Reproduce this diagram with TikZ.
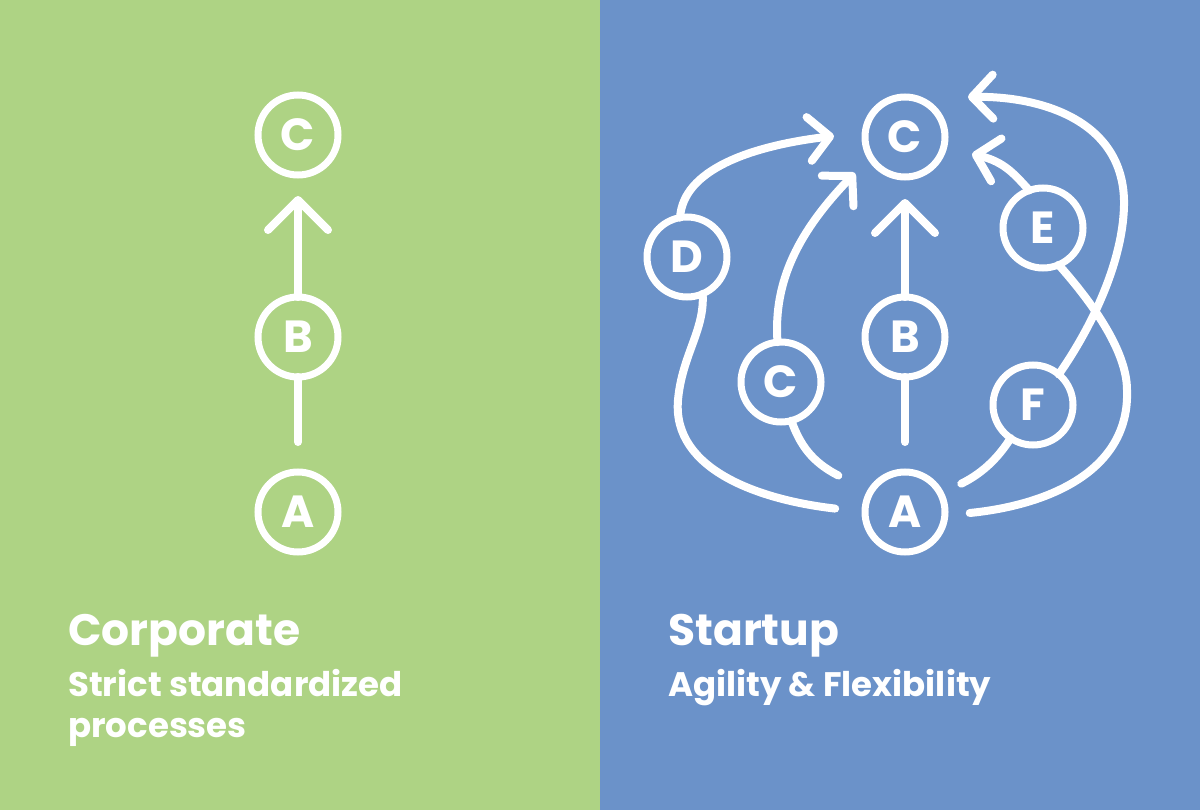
\documentclass[tikz,border=0pt]{standalone}
\usepackage{fontspec}
\setmainfont{Poppins}
\usetikzlibrary{arrows.meta}

\definecolor{corpgreen}{RGB}{174,211,132}
\definecolor{startblue}{RGB}{107,146,201}

\tikzset{
    stage/.style={circle, draw=white, line width=7pt, minimum size=80pt, inner sep=0pt, outer sep=0pt,
        text=white, font=\fontsize{45}{45}\selectfont\bfseries},
    link/.style={white, line width=8pt, line cap=round},
    flow/.style={link, -{Straight Barb[length=30pt,width=60pt,round]}},
    bend flow/.style={link, -{Straight Barb[length=21pt,width=44pt,round]}},
    title/.style={anchor=base west, text=white, inner sep=0pt, font=\fontsize{44}{50}\selectfont\bfseries},
    subtitle/.style={anchor=base west, text=white, inner sep=0pt, font=\fontsize{34}{40}\selectfont\bfseries},
}

\begin{document}
\begin{tikzpicture}[x=1pt,y=-1pt]
        % Panels.
        \fill[corpgreen] (0,0) rectangle (600,810);
        \fill[startblue] (600,0) rectangle (1200,810);
        \useasboundingbox (0,0) rectangle (1200,810);

        %Corporate
        \node[stage] (Cl) at (298,135) {C};
        \node[stage] (Bl) at (298,337) {B};
        \node[stage] (Al) at (298,512) {A};
        \draw[link, shorten <=30pt] (Al.north) -- (Bl.south);
        \draw[flow, shorten >=21pt] (Bl.north) -- (Cl.south);

        \node[title] (corp) at (68,645) {Corporate};
        \node[subtitle] (corp1) at (68,696) {Strict standardized};
        \node[subtitle] (corp2) at (68,737) {processes};

        %Startup
        \node[stage] (Ct) at (905,137) {C};
        \node[stage] (B) at (905,337) {B};
        \node[stage] (A) at (905,512) {A};
        \node[stage] (D) at (687,257) {D};
        \node[stage] (Cs) at (781,382) {C};
        \node[stage] (E) at (1043,228) {E};
        \node[stage] (F) at (1033,405) {F};

        % tips in front of C
        \coordinate (tipD) at (834,136);
        \coordinate (tipCs) at (855,173);
        \coordinate (tipE) at (972,154);
        \coordinate (tipF) at (968,97);

        %straight
        \draw[link, shorten <=30pt] (A.north) -- (B.south);
        \draw[flow, shorten >=22pt] (B.north) -- (Ct.south);

        %via D
        \draw[link, shorten <=30pt] (A.west) .. controls (760,500) and (672,470) .. (678,400)
            .. controls (682,355) and (705,330) .. (D.-67);
        \draw[bend flow] (D.100) .. controls (683,170) and (750,146) .. (tipD);

        %via C
        \draw[link, shorten <=36pt] (A.150) .. controls (812,462) and (800,445) .. (Cs.-75);
        \draw[bend flow] (Cs.95) .. controls (773,280) and (800,230) .. (tipCs);

        %via E
        \draw[link, shorten <=25pt] (A.-5) .. controls (1050,505) and (1130,470) .. (1127,390)
            .. controls (1127,350) and (1090,300) .. (E.-67);
        \draw[bend flow] (E.110) .. controls (1015,175) and (1005,162) .. (tipE);

        %via F
        \draw[link, shorten <=23pt] (A.27) .. controls (985,472) and (1000,455) .. (F.-124);
        \draw[bend flow] (F.50) .. controls (1090,330) and (1125,260) .. (1124,200)
            .. controls (1122,120) and (1040,96) .. (tipF);

        \node[title] (start) at (668,645) {Startup};
        \node[subtitle] (start1) at (668,696) {Agility \& Flexibility};
    \end{tikzpicture}
\end{document}
